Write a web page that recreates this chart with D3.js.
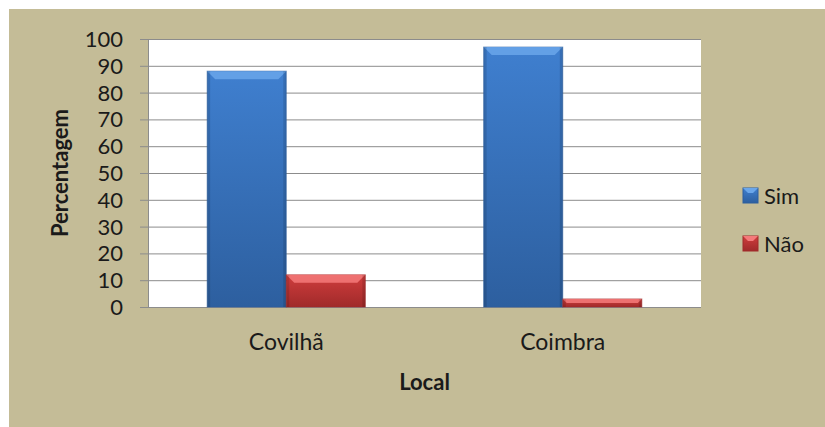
<!DOCTYPE html>
<html>
<head>
<meta charset="utf-8">
<script src="https://cdn.jsdelivr.net/npm/d3@7"></script>
<style>
  body { margin: 0; background: #fff; }
  text { font-family: Lato, "Open Sans", sans-serif; fill: #1a1a1a; }
</style>
</head>
<body>
<svg id="chart" width="825" height="427"></svg>
<script>
// chart data
const locais = ["Covilhã", "Coimbra"];
const series = ["Sim", "Não"];
const sim = [88, 97];
const nao = [12, 3];
const yTicks = [0, 10, 20, 30, 40, 50, 60, 70, 80, 90, 100];

const colors = {
  "Sim": { light: "#6aa6ea", mid: "#3f7fcf", dark: "#2d5f9f" },
  "Não": { light: "#f47a7a", mid: "#cf3d3d", dark: "#a02a2a" }
};

const rows = locais.map((l, i) => ({ local: l, values: [sim[i], nao[i]] }));

const svg = d3.select("#chart");

// tan background
svg.append("rect")
    .attr("x", 9).attr("y", 9)
    .attr("width", 816).attr("height", 418)
    .attr("fill", "#c4bc97");

const margin = { left: 148, top: 39, right: 701, bottom: 307 };

const x0 = d3.scaleBand()
    .domain(locais)
    .range([margin.left, margin.right])
    .paddingInner(0.428)
    .paddingOuter(0.214);

const x1 = d3.scaleBand()
    .domain(series)
    .range([0, x0.bandwidth()]);

const y = d3.scaleLinear()
    .domain([0, 100])
    .range([margin.bottom, margin.top]);

// gradients
const defs = svg.append("defs");
series.forEach((s, i) => {
  const g = defs.append("linearGradient")
      .attr("id", "grad" + i)
      .attr("x1", "0").attr("y1", "0").attr("x2", "0").attr("y2", "1");
  g.append("stop").attr("offset", "0%").attr("stop-color", colors[s].mid);
  g.append("stop").attr("offset", "100%").attr("stop-color", colors[s].dark);
});

// plot area
svg.append("rect")
    .attr("x", margin.left).attr("y", margin.top)
    .attr("width", margin.right - margin.left)
    .attr("height", margin.bottom - margin.top)
    .attr("fill", "#fff");

// gridlines
svg.append("g")
  .selectAll("line")
  .data(yTicks)
  .enter().append("line")
    .attr("x1", margin.left - 8)
    .attr("x2", margin.right)
    .attr("y1", d => y(d) + 0.5)
    .attr("y2", d => y(d) + 0.5)
    .attr("stroke", "#8c8c8c")
    .attr("stroke-width", 1);

// left axis line
svg.append("line")
    .attr("x1", margin.left + 0.5).attr("x2", margin.left + 0.5)
    .attr("y1", margin.top).attr("y2", margin.bottom)
    .attr("stroke", "#8c8c8c");

// y tick labels
svg.append("g")
  .selectAll("text")
  .data(yTicks)
  .enter().append("text")
    .attr("x", 123)
    .attr("y", d => y(d))
    .attr("dy", "0.36em")
    .attr("text-anchor", "end")
    .style("font-size", "22px")
    .text(d => d);

// bars
const group = svg.append("g")
  .selectAll("g")
  .data(rows)
  .enter().append("g")
    .attr("transform", d => `translate(${x0(d.local)},0)`);

const bar = group.selectAll("g")
  .data(d => d.values.map((v, i) => ({ key: series[i], idx: i, value: v })))
  .enter().append("g");

bar.append("rect")
    .attr("x", d => x1(d.key))
    .attr("y", d => y(d.value))
    .attr("width", x1.bandwidth())
    .attr("height", d => y(0) - y(d.value))
    .attr("fill", d => `url(#grad${d.idx})`)
    .attr("stroke", d => colors[d.key].dark)
    .attr("stroke-opacity", 0.6);

// bevel on top of each bar
bar.append("path")
    .attr("d", d => {
      const xa = x1(d.key), xb = xa + x1.bandwidth(), yt = y(d.value);
      const b = Math.min(8, (y(0) - yt) / 2);
      return `M${xa},${yt}L${xb},${yt}L${xb - b},${yt + b}L${xa + b},${yt + b}Z`;
    })
    .attr("fill", d => colors[d.key].light)
    .attr("opacity", 0.85);

// side shading
bar.append("rect")
    .attr("x", d => x1(d.key))
    .attr("y", d => y(d.value))
    .attr("width", 3)
    .attr("height", d => y(0) - y(d.value))
    .attr("fill", "#000").attr("opacity", 0.12);
bar.append("rect")
    .attr("x", d => x1(d.key) + x1.bandwidth() - 3)
    .attr("y", d => y(d.value))
    .attr("width", 3)
    .attr("height", d => y(0) - y(d.value))
    .attr("fill", "#000").attr("opacity", 0.12);

// x labels
svg.append("g")
  .selectAll("text")
  .data(locais)
  .enter().append("text")
    .attr("x", d => x0(d) + x0.bandwidth() / 2)
    .attr("y", 350)
    .attr("text-anchor", "middle")
    .style("font-size", "23px")
    .text(d => d);

// axis titles
svg.append("text")
    .attr("x", (margin.left + margin.right) / 2)
    .attr("y", 390)
    .attr("text-anchor", "middle")
    .style("font-size", "22px")
    .style("font-weight", "bold")
    .text("Local");

svg.append("text")
    .attr("transform", `translate(68,${(margin.top + margin.bottom) / 2}) rotate(-90)`)
    .attr("text-anchor", "middle")
    .style("font-size", "22px")
    .style("font-weight", "bold")
    .text("Percentagem");

// legend
const legend = svg.append("g")
  .selectAll("g")
  .data(series)
  .enter().append("g")
    .attr("transform", (d, i) => `translate(743,${188 + i * 48})`);

legend.append("rect")
    .attr("width", 15).attr("height", 15)
    .attr("fill", (d, i) => `url(#grad${i})`)
    .attr("stroke", d => colors[d].dark);

legend.append("path")
    .attr("d", "M0,0L15,0L10,5L5,5Z")
    .attr("fill", d => colors[d].light);

legend.append("text")
    .attr("x", 21)
    .attr("y", 8)
    .attr("dy", "0.36em")
    .style("font-size", "22px")
    .text(d => d);
</script>
</body>
</html>
